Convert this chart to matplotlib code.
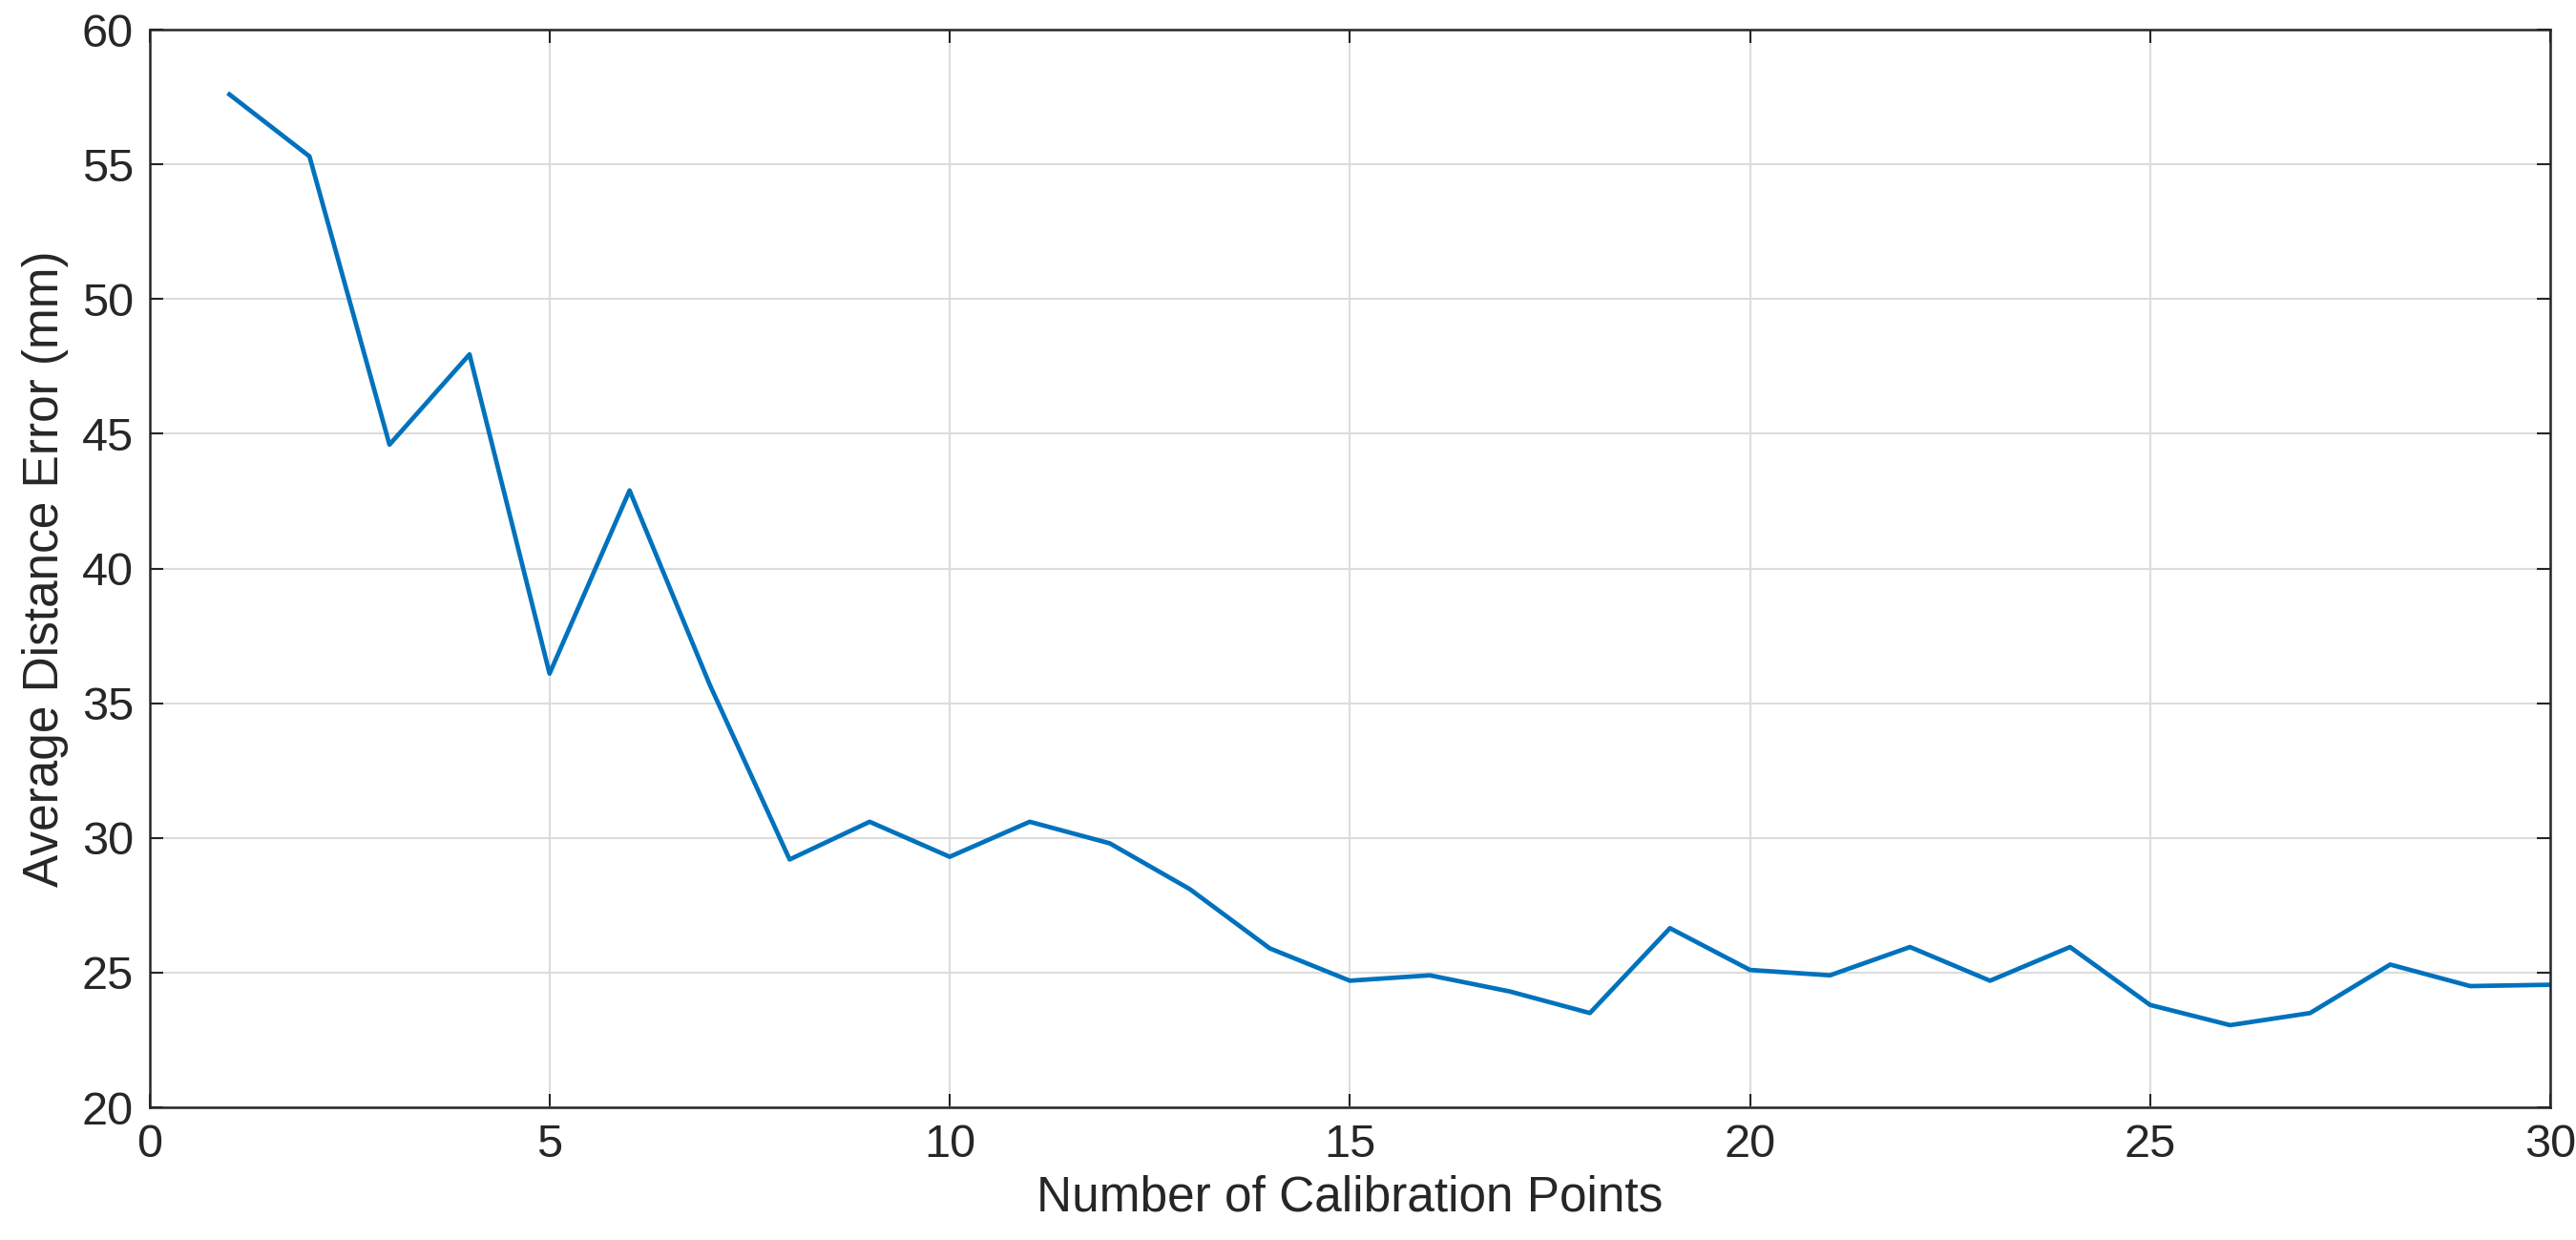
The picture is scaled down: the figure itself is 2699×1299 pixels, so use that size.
import matplotlib
matplotlib.use("Agg")
import matplotlib.pyplot as plt

points = list(range(1, 31))
errors = [57.6, 55.3, 44.6, 47.95, 36.1, 42.9, 35.7, 29.2, 30.6, 29.3, 30.6, 29.8, 28.1, 25.9, 24.7,
          24.9, 24.3, 23.5, 26.65, 25.1, 24.9, 25.95, 24.7, 25.95, 23.8, 23.05, 23.5, 25.3, 24.5, 24.55]
xticks = [0, 5, 10, 15, 20, 25, 30]
yticks = [20, 25, 30, 35, 40, 45, 50, 55, 60]

plt.rcParams['font.family'] = ['Liberation Sans', 'DejaVu Sans']
fig = plt.figure(figsize=(26.99, 12.99), dpi=100)
ax = fig.add_axes([0.058, 0.107, 0.932, 0.869])
ax.plot(points, errors, color='#0072BD', lw=3.4)
ax.set_xlim(0, 30)
ax.set_ylim(20, 60)
ax.set_xticks(xticks)
ax.set_yticks(yticks)
ax.grid(True, color='#dcdcdc', lw=1.5)
ax.tick_params(labelsize=35, direction='in', length=10, width=1.5, top=True, right=True,
               colors='#262626', pad=12)
for s in ax.spines.values():
    s.set_linewidth(1.8)
    s.set_color('#262626')
ax.set_xlabel('Number of Calibration Points', fontsize=37, color='#262626', labelpad=6)
ax.set_ylabel('Average Distance Error (mm)', fontsize=37, color='#262626', labelpad=10)
fig.savefig('out.png', dpi=100)
